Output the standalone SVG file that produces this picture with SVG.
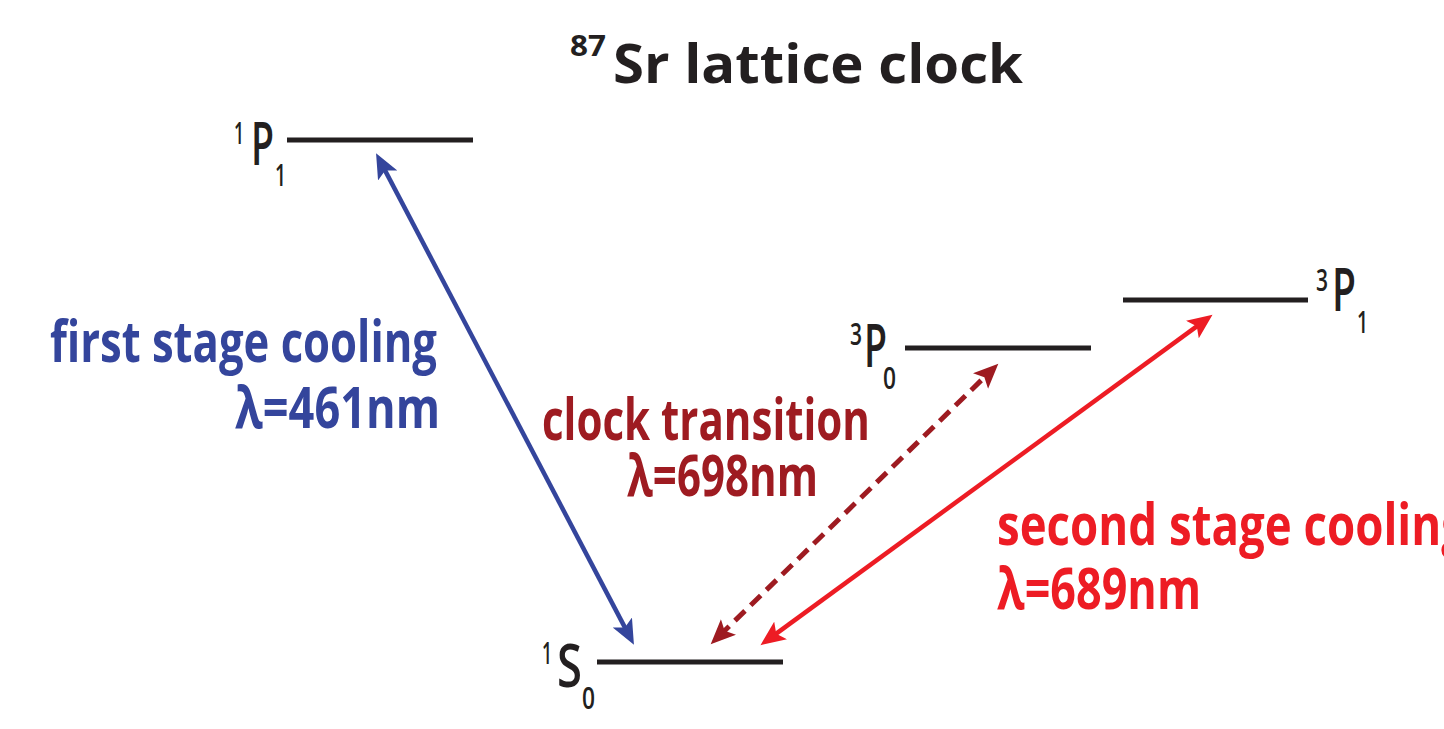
<svg xmlns="http://www.w3.org/2000/svg" width="1444" height="729" viewBox="0 0 1444 729">
<style>
text{font-family:"Open Sans","Liberation Sans",sans-serif;font-weight:700}
.k{fill:#231f20}
.lvl{stroke:#231f20;stroke-width:5}
.b{fill:#34459c}
.dr{fill:#9e1b21}
.r{fill:#ed1c24}
.big{font-size:58px}
.P{font-size:59px;font-weight:600}
.sup{font-size:30px;font-weight:600}
.sub{font-size:31px;font-weight:600}
</style>
<defs>
<marker id="ab" markerUnits="userSpaceOnUse" markerWidth="26" markerHeight="22" refX="12" refY="10" orient="auto-start-reverse" viewBox="0 0 24 20"><path d="M0,0 L23,10 L0,20 L5,10 z" fill="#34459c"/></marker>
<marker id="adr" markerUnits="userSpaceOnUse" markerWidth="26" markerHeight="22" refX="12" refY="10" orient="auto-start-reverse" viewBox="0 0 24 20"><path d="M0,0 L23,10 L0,20 L5,10 z" fill="#9e1b21"/></marker>
<marker id="ar" markerUnits="userSpaceOnUse" markerWidth="26" markerHeight="22" refX="12" refY="10" orient="auto-start-reverse" viewBox="0 0 24 20"><path d="M0,0 L23,10 L0,20 L5,10 z" fill="#ed1c24"/></marker>
</defs>
<g id="title">
<text class="k" x="570" y="56" font-size="29" font-weight="600" textLength="36" lengthAdjust="spacingAndGlyphs">87</text>
<text class="k" x="613" y="83" font-size="54" textLength="410" lengthAdjust="spacingAndGlyphs">Sr lattice clock</text>
</g>
<g id="level-1P1">
<line class="lvl" x1="287" y1="140" x2="473" y2="140"/>
<text class="k sup" x="234" y="144" textLength="10" lengthAdjust="spacingAndGlyphs">1</text>
<text class="k P" x="251" y="165" textLength="23" lengthAdjust="spacingAndGlyphs">P</text>
<text class="k sub" x="275" y="186" textLength="11" lengthAdjust="spacingAndGlyphs">1</text>
</g>
<g id="level-3P0">
<line class="lvl" x1="905" y1="348" x2="1091" y2="348"/>
<text class="k sup" x="850" y="345" textLength="12" lengthAdjust="spacingAndGlyphs">3</text>
<text class="k P" x="864" y="367" textLength="23" lengthAdjust="spacingAndGlyphs">P</text>
<text class="k sub" x="883" y="389" textLength="13" lengthAdjust="spacingAndGlyphs">0</text>
</g>
<g id="level-3P1">
<line class="lvl" x1="1123" y1="300" x2="1308" y2="300"/>
<text class="k sup" x="1316" y="291" textLength="12" lengthAdjust="spacingAndGlyphs">3</text>
<text class="k P" x="1332" y="311" textLength="24" lengthAdjust="spacingAndGlyphs">P</text>
<text class="k sub" x="1357" y="333" textLength="11" lengthAdjust="spacingAndGlyphs">1</text>
</g>
<g id="level-1S0">
<line class="lvl" x1="597" y1="662" x2="783" y2="662"/>
<text class="k sup" x="542" y="664" textLength="10" lengthAdjust="spacingAndGlyphs">1</text>
<text class="k P" x="557" y="687" textLength="25" lengthAdjust="spacingAndGlyphs">S</text>
<text class="k sub" x="582" y="709" textLength="13" lengthAdjust="spacingAndGlyphs">0</text>
</g>
<g id="connectors" fill="none" stroke-width="4.5">
<line x1="381.6" y1="163.9" x2="628.4" y2="634.1" stroke="#34459c" marker-start="url(#ab)" marker-end="url(#ab)"/>
<line x1="719.2" y1="636.0" x2="989.8" y2="372.0" stroke="#9e1b21" stroke-width="5" stroke-dasharray="14 8" marker-start="url(#adr)" marker-end="url(#adr)"/>
<line x1="770.1" y1="638.1" x2="1202.9" y2="321.9" stroke="#ed1c24" marker-start="url(#ar)" marker-end="url(#ar)"/>
</g>
<g id="label-first">
<text class="b big" x="50" y="362" textLength="387" lengthAdjust="spacingAndGlyphs">first stage cooling</text>
<text class="b big" x="235" y="428" textLength="205" lengthAdjust="spacingAndGlyphs">λ=461nm</text>
</g>
<g id="label-clock">
<text class="dr big" x="542" y="440" textLength="328" lengthAdjust="spacingAndGlyphs">clock transition</text>
<text class="dr big" x="627" y="496" textLength="191" lengthAdjust="spacingAndGlyphs">λ=698nm</text>
</g>
<g id="label-second">
<text class="r big" x="997" y="545" textLength="470" lengthAdjust="spacingAndGlyphs">second stage cooling</text>
<text class="r big" x="997" y="609" textLength="204" lengthAdjust="spacingAndGlyphs">λ=689nm</text>
</g>
</svg>
